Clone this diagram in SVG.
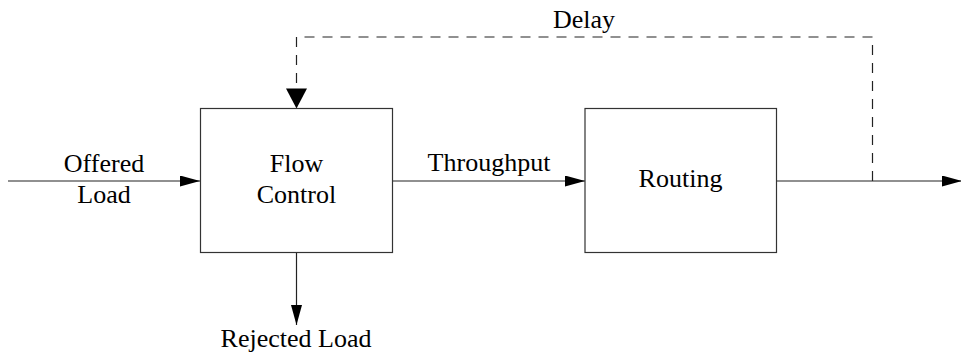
<svg xmlns="http://www.w3.org/2000/svg" width="961" height="356" viewBox="0 0 961 356">
<style>
  .box { fill: #fff; stroke: #333; stroke-width: 1.2; }
  .ln { fill: none; stroke: #222; stroke-width: 1.2; }
  .dash { fill: none; stroke: #222; stroke-width: 1.2; stroke-dasharray: 10 8; }
  text { font-family: "Liberation Serif", "Times New Roman", serif; font-size: 26px; fill: #000; text-anchor: middle; }
</style>
<defs>
  <marker id="arr" viewBox="0 0 20 11" refX="20" refY="5.5" markerWidth="20" markerHeight="11" markerUnits="userSpaceOnUse" orient="auto">
    <path d="M0,0 L20,5.5 L0,11 Z" fill="#000"/>
  </marker>
</defs>
<rect width="961" height="356" fill="#fff"/>
<g id="connectors">
  <line class="ln" x1="8" y1="181" x2="200" y2="181" marker-end="url(#arr)"/>
  <line class="ln" x1="392.5" y1="181" x2="585" y2="181" marker-end="url(#arr)"/>
  <line class="ln" x1="776.5" y1="181" x2="962" y2="181" marker-end="url(#arr)"/>
  <line class="ln" x1="296.5" y1="252.5" x2="296.5" y2="325" marker-end="url(#arr)"/>
  <path class="dash" d="M872.5,181 V37 H296.5 V107.5"/>
  <path d="M286,88.5 L296.5,108.5 L307,88.5 Z" fill="#000"/>
  <text x="104" y="171.5">Offered</text>
  <text x="104" y="203">Load</text>
  <text x="489" y="171">Throughput</text>
  <text x="584" y="27.5">Delay</text>
  <text x="296" y="346.5">Rejected Load</text>
</g>
<g id="flow-control">
  <rect class="box" x="200.5" y="108.5" width="192" height="144"/>
  <text x="296.5" y="171.5">Flow</text>
  <text x="296.5" y="203">Control</text>
</g>
<g id="routing">
  <rect class="box" x="585" y="108.5" width="191.5" height="144"/>
  <text x="680.5" y="186.5">Routing</text>
</g>
</svg>
